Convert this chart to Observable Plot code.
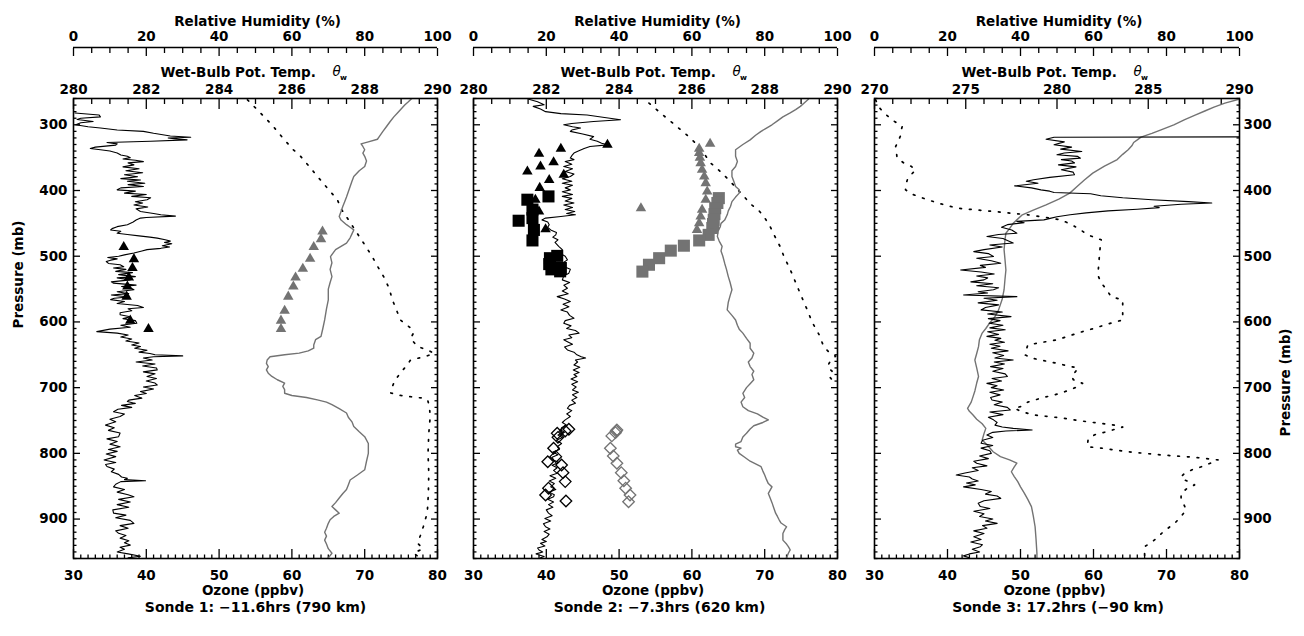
<!DOCTYPE html>
<html><head><meta charset="utf-8">
<script src="https://cdn.jsdelivr.net/npm/d3@7"></script>
<script src="https://cdn.jsdelivr.net/npm/@observablehq/plot@0.6"></script>
<style>
html,body{margin:0;padding:0;background:#fff}
#wrap{position:relative;width:1304px;height:636px;overflow:hidden;background:#fff}
.panel{position:absolute;top:0}
</style></head><body>
<div id="wrap"><div id="p1" class="panel" style="left:0px"></div><div id="p2" class="panel" style="left:455px"></div><div id="p3" class="panel" style="left:855px"></div></div>
<script>
// ---------- tick labels / axis values ----------
const ozoneTicks = [30, 40, 50, 60, 70, 80];
const rhTicks = [0, 20, 40, 60, 80, 100];
const thetaTicksA = [280, 282, 284, 286, 288, 290];
const thetaTicksB = [270, 275, 280, 285, 290];
const pressureTicks = [300, 400, 500, 600, 700, 800, 900];
const pressureDomain = [260, 960];
const captions = ["Sonde 1: \u221211.6hrs (790 km)", "Sonde 2: \u22127.3hrs (620 km)", "Sonde 3: 17.2hrs (\u221290 km)"];

// ---------- Sonde 1 : [pressure mb, value] ----------
const s1Ozone = [[282,30.2],[285,33.5],[288,33.7],[290,31],[292,30.5],[295,32.7],[297,31],[300,30.3],[303,32],[305,33.7],[308,36],[310,39.6],[313,41],[317,43.3],[319,46.1],[320,43],[321,43.8],[323,45.6],[325,40.6],[327,34.6],[329,36],[331,35.8],[334,33],[336,32.3],[338,33.7],[340,35],[343,36],[346,36.5],[348,37.4],[350,37.8],[352,36.8],[354,38.5],[356,39.6],[358,37.5],[361,38.3],[364,36.8],[367,39],[370,37.2],[373,39.5],[376,37],[379,38.8],[382,36.5],[384,39.2],[386,37.4],[389,39.8],[391,37.5],[394,39.6],[396,36.5],[399,36],[401,38.5],[404,37],[406,40],[409,38],[411,40.6],[414,40.1],[417,38.5],[419,39.5],[422,38.3],[425,40.2],[428,38.6],[432,39.2],[435,41],[437,42],[439,44],[441,40],[442,39.2],[445,38.6],[448,38.2],[452,37.4],[455,36],[458,35.3],[460,35.1],[462,36.5],[465,36],[467,37.4],[469,39],[471,40.5],[472.5,41.5],[475,42.6],[477,43.3],[479,42.5],[481,43.5],[484,42.2],[486,43.2],[488,42],[490,40.1],[492,39.4],[495,38.3],[498,37],[500,36.2],[502,34.7],[504,36],[506,35.1],[508,34.5],[511,34.8],[513,36.4],[516,36.9],[518,35.5],[520,37.2],[523,35.8],[525,38.1],[528,36.2],[531,38.5],[533,36],[536,37.8],[539,35.2],[541,35.5],[544,38.6],[546,36.6],[549,38],[551,38.3],[554,36],[557,37.6],[559,35.2],[562,37.5],[564,35.6],[566,35.1],[569,37],[572,36],[575,38.8],[578,39.6],[580,37.5],[583,38],[586,36.4],[589,36.4],[592,37.8],[595,36.8],[598,38.5],[602,38.7],[605,36.5],[608,37.8],[611,35],[614.7,33.2],[617,36],[620,37.5],[623,36.5],[626,38],[629,37.2],[632,39],[635,38],[637.5,39.2],[640,38.4],[643,40.1],[646,39],[648,40.5],[650,41.2],[651.7,45],[653,41],[655,39.6],[658,40.8],[661,38.6],[664,41.2],[667,39.5],[670,41.4],[673,41.5],[676,39.6],[679,41.2],[683,40.1],[686,41.4],[690,40],[693,41.2],[696,41.5],[699,39.6],[702,41],[706,39.2],[709,40],[712,38.4],[716,39.4],[719,37.6],[721,37.4],[724,38.5],[727,36.6],[730,38],[733,36.1],[736.6,35.5],[740,37],[744,36.4],[748,35],[752,35.8],[757,34.4],[761,35.6],[765,34.8],[769,36.4],[774.6,36.2],[778,34.6],[782,36],[786,35],[790,36.4],[794,34.8],[797,36],[801,34.5],[805,35.8],[810,34.2],[814,35.8],[817,34.4],[820,34.6],[824,35.6],[828,35.2],[832,36.2],[836,36.6],[838,37.4],[840,37],[841.6,39.9],[843,36.5],[847,35.8],[851,35.5],[855,37],[859,36],[863,37.5],[866,38.3],[870,36.2],[874,37.8],[878,36],[882,37.6],[886,35.4],[891,35.5],[894,37.2],[898,35.8],[902,37.8],[906.5,38.3],[910,36.4],[914,37.5],[918,35.8],[921.7,36.2],[925,37.2],[929,36.4],[933,37.6],[936,37],[939.6,37.8],[943,36.4],[946,37],[950,36],[953,37.5],[956.5,39.2],[959,37.5]];
const s1Theta = [[259.5,289.3],[265,289.2],[270,289.1],[276,289.0],[282,288.9],[288,288.8],[295,288.7],[302.6,288.6],[310,288.5],[318,288.4],[322,288.35],[326,288.1],[329,287.9],[333,287.95],[338,288.0],[343,287.95],[348,288.0],[355,288.05],[363.5,288.0],[370,287.85],[378.7,287.7],[386,287.65],[394,287.6],[402,287.55],[410,287.5],[417,287.45],[424,287.4],[432,287.35],[439.6,287.3],[445,287.35],[452,287.5],[456,287.6],[460,287.7],[466,287.65],[472,287.6],[480,287.5],[490,287.2],[500.5,287.06],[510,287.1],[520,287.05],[531,287.1],[540,287.05],[550,287.0],[566.5,287.0],[580,286.95],[597,286.9],[610,286.85],[622,286.8],[627,286.65],[635,286.6],[640,286.6],[644,286.45],[647.5,286.2],[650,285.8],[653,285.4],[658,285.32],[663,285.3],[668,285.35],[673,285.3],[678,285.35],[683,285.45],[688,285.6],[693,285.8],[698,285.75],[703,285.8],[708.6,285.8],[712,286.0],[715,286.4],[718.7,286.7],[722,286.95],[726,287.1],[732,287.3],[738.6,287.5],[745,287.55],[752,287.65],[759,287.7],[767,287.85],[774.6,288.0],[785,288.1],[800,288.1],[812,288.05],[825,288.0],[833,287.8],[840.6,287.6],[848,287.55],[855,287.5],[861,287.4],[868,287.3],[875,287.2],[881,287.1],[886,287.2],[891,287.3],[896,287.15],[901,287.05],[906.5,287.0],[914,286.95],[920,286.9],[926,286.95],[932,286.9],[938,286.95],[945,287.0],[952,287.1],[959,287.0]];
const s1Rh = [[262,47.8],[280,51],[300,54.5],[320,57.5],[338,60.4],[348,62.4],[365,65],[383.7,67.8],[400,70.3],[414,72.5],[428,73.5],[440,75],[457,77],[470,78.5],[480,79.7],[500,82],[515,83.5],[531,85.2],[550,86.8],[565,87.5],[580,88.6],[597,89.8],[610,92.8],[617,93.4],[625,92.6],[637.5,94.5],[642.6,97.3],[648,99],[652,97],[658,92.6],[668,91.3],[677.6,89.8],[690,88.2],[700,87.5],[708,87.1],[712,90],[716,96],[718.7,97.3],[730,97.8],[744,98],[770,97.6],[800,97.4],[830,97.6],[860,97.5],[890,97.2],[911.7,96.1],[925,95.3],[936.5,94.5],[945,96],[952,93.4],[958,95]];
const s1TriOzone = [[486,36.9],[504.5,38.3],[518,38.1],[532.5,37.6],[546,37.4],[561.5,37.3],[598,37.8],[610.7,40.3]];
const s1TriTheta = [[462.5,286.84],[474,286.8],[486,286.6],[504,286.5],[519,286.3],[532.5,286.1],[546,286.04],[561.5,285.9],[583,285.8],[598,285.7],[610.7,285.7]];

// ---------- Sonde 2 ----------
const s2Ozone = [[261,37.6],[265,38.8],[269.5,39.7],[272,38.2],[276,39.2],[280,39.9],[283,42],[285,45.6],[289,48],[292.4,50.2],[295,46.5],[298,43.5],[300,42.4],[303,43.6],[305,44.7],[308,43.5],[310,43.3],[314,45],[318,46.5],[322,46],[325,47],[328,47.6],[330.5,48.4],[333,46],[336,45.2],[340,44.4],[343,43.8],[347,43.5],[350.7,43.3],[353,43.8],[356,42.6],[360,43.5],[363.5,42.4],[367,43.6],[371,42.6],[375,43.8],[378.7,43.3],[382,42.2],[386,43.5],[389,42.2],[392,43.6],[396,42.6],[399,43.3],[402,42.2],[406,43.6],[409,42.2],[412,43.5],[416,42.6],[419,43.8],[422,42.4],[426,43.6],[429,42.6],[432,43.9],[435,42.8],[437,44],[439.6,42],[442,39.9],[444.7,39.4],[448,40.2],[452,40.4],[456,40.2],[460,40.6],[464,41.4],[467.5,41.3],[471,40.9],[475,41.6],[479,41.2],[485,41.7],[490,42.2],[495,41.8],[500,42.6],[505.6,42.9],[510,42.3],[515.8,42.4],[520,43.3],[525.8,43.1],[530,42.4],[536,42.2],[540,43.2],[544,42.4],[548.7,42.9],[553,42.2],[557,43],[561.5,41.5],[565,42.5],[569,43.3],[573,42.3],[577,43.1],[581.7,42],[585,42.9],[590,43.2],[594.4,43.8],[598,42.6],[602,42.4],[606,43.4],[610,42.8],[613,44],[617,44.5],[620,43.1],[624,43.5],[627,42.4],[630,42.9],[634,43.6],[638,42.5],[642.6,42.9],[646,43.8],[650,44.2],[653,44.8],[655,45.4],[658,44],[661,44.3],[665.5,43.8],[669,44.6],[673,43.7],[677,44.5],[680,43.8],[683,44.2],[687,43.4],[691,44.3],[695,43.5],[699,44.1],[703.5,43.6],[707,44.4],[711,43.6],[715,44.2],[719,43.5],[723.8,44],[727,43.2],[731.4,42.9],[735,43.5],[740,42.8],[744,43.3],[749,42.6],[753,42.2],[757,42.8],[761,42.1],[764.4,42],[768,42.5],[772,41.6],[776,42.2],[780,41.4],[785,42.1],[789.9,41.5],[794,41.8],[798,40.9],[802,41.6],[806,40.8],[810,41],[814,41.7],[818,40.8],[822,41.5],[826,41],[830.4,41.5],[834,40.5],[838,41.3],[842,40.4],[846,41.1],[851,40.6],[855,41.3],[859,40.4],[863,41.1],[866,41],[870,40.2],[874,41],[878,40.3],[882,40.9],[886,40],[891,40.3],[895,40.8],[899,39.8],[903,40.6],[907,39.6],[911.7,39.9],[915,40.5],[919,39.7],[923,40.4],[927,40.1],[931,39.4],[934,40],[937,39.2],[941,39.8],[944,38.8],[947,39],[950,39.5],[953,38.6],[957,39.7],[959,39.2]];
const s2Theta = [[261,289.2],[266,289.1],[272,288.98],[277,288.85],[282,288.7],[288,288.5],[294,288.35],[300,288.2],[305,288.05],[310,287.9],[316,287.75],[323,287.6],[330,287.4],[338,287.2],[343,287.2],[348,287.2],[356,287.25],[363.5,287.2],[370,287.1],[378.7,287.1],[386,287.15],[394,287.2],[399,287.3],[404,287.3],[410,287.2],[417,287.1],[424.4,287.06],[431,287.0],[437,286.97],[445,286.9],[450,286.8],[455,286.78],[462,286.72],[470,286.7],[477,286.75],[485,286.83],[492,286.8],[500,286.85],[510.6,286.9],[520,286.95],[531,287.0],[540,287.05],[551,287.1],[560,287.05],[570,287.0],[581.7,286.97],[590,287.1],[597,287.2],[605,287.25],[611,287.3],[617,287.4],[625,287.5],[632.5,287.6],[640,287.6],[647.6,287.7],[655,287.65],[661,287.55],[668,287.6],[675,287.7],[680,287.65],[688,287.7],[694,287.6],[700,287.5],[708.6,287.4],[715,287.45],[722,287.35],[729,287.4],[735,287.55],[740,287.8],[745,287.95],[749,288.1],[753,287.95],[758,287.7],[763,287.6],[769.5,287.5],[775,287.4],[782,287.35],[786,287.2],[789.9,287.2],[792,287.35],[795,287.25],[800,287.3],[806,287.45],[812,287.6],[820.3,287.9],[827,287.95],[833,288.0],[840,288.05],[846,288.1],[851,288.2],[856,288.15],[861,288.1],[868,288.15],[875,288.2],[883,288.25],[891,288.3],[896,288.35],[901.5,288.4],[906,288.45],[911.7,288.6],[916,288.55],[922,288.5],[927,288.5],[932,288.5],[938,288.6],[942,288.65],[947,288.7],[952,288.65],[959,288.6]];
const s2Rh = [[267,48.2],[285,52],[300,55.3],[315,58.5],[330.5,61.5],[345,63.5],[358,65.1],[372,68],[386,70.5],[400,72.8],[409,74.3],[420,76],[430,78.3],[439.6,79.8],[455,81.5],[470,82.8],[485,84.2],[500.5,85.3],[520,87],[540,88.5],[560,90],[581.7,91.7],[600,93],[620,95],[637.6,96.2],[645,97.5],[652,99.5],[660,98],[668,97.2],[675,98.5],[682,97.6],[690,98.8]];
const s2TriOzone = [[330.5,48.4],[336.5,42],[344,39],[357,41],[363.5,39.2],[371,37.4],[376,42.4],[384,40.4],[396,39.1],[414,38.5],[432,39],[459,39.9]];
const s2TriTheta = [[329,286.5],[336.5,286.2],[343,286.2],[350,286.22],[358.3,286.24],[368.5,286.28],[378.7,286.34],[388.8,286.38],[401.5,286.42],[414.2,286.38],[429.4,286.28],[439.6,286.24],[449.8,286.2],[459.9,286.14],[427,284.6]];
const s2SqOzone = [[409,40.3],[414,37.4],[429,38.1],[442,38.1],[446,36.2],[460,38.3],[476,38.1],[499.5,41.5],[503,40.5],[512,40.4],[520,40.7],[523,41.9],[518,42.0]];
const s2SqTheta = [[411.6,286.74],[419,286.7],[427,286.64],[436,286.62],[444.7,286.6],[451,286.58],[457,286.56],[467.5,286.46],[476,286.2],[484,285.78],[491.5,285.42],[503,285.1],[513,284.82],[523.4,284.64]];
const s2DiaOzone = [[763.4,43.1],[766,42.6],[769.5,41.5],[775.6,41.6],[792.3,41],[805,41.3],[812.7,40.2],[817.7,42.1],[829.4,42.3],[843,42.6],[853,40.3],[863.4,39.9],[872.5,42.7]];
const s2DiaTheta = [[764.4,283.94],[766,283.92],[768.5,283.9],[773.4,283.8],[792.3,283.76],[804,283.84],[815,283.94],[829.4,284.06],[841.6,284.13],[853,284.18],[863.4,284.3],[873.6,284.26]];

// ---------- Sonde 3 ----------
const s3Ozone = [[318,95],[319,54.6],[322,53.5],[326,56],[330.5,54.6],[334,57],[337,55.5],[340.6,58.4],[343,56],[345.7,55],[348,57.8],[350.7,58.2],[353,55.6],[355,57],[358,57.4],[361,55.2],[364,57.6],[368.5,55.6],[372,57.2],[376,57.4],[380,54],[383.7,51.8],[386,50.8],[389,52.4],[393,49.2],[396,51.5],[399,52.8],[401,54],[403,54.6],[405,59.6],[408,61],[411,64],[414,68],[417,73],[419,76.2],[421,72],[424,68.3],[426,69],[428.5,66],[431,62],[434,59],[437,56.8],[440,55],[442,54.2],[444.7,53.2],[447,49.5],[449,50.5],[452,48.2],[456,47.4],[460,48.8],[465,49.5],[467,47],[470,45.4],[473,47.6],[476,48.2],[480,49],[483,45.8],[486,47.5],[490,45],[493,43.6],[496,45.6],[500.5,46.3],[503,44],[507,46],[510.6,47.3],[514,44.5],[517,45.2],[521,41.8],[524,44.6],[527,46.4],[530,44],[533,45.5],[536,45],[539,43.2],[542,46.2],[545,44],[548,47],[551,46.3],[554,44.2],[556,45.5],[559,42.2],[561.5,49.5],[564,45],[567,46.8],[571,44.2],[574,47],[578,45.2],[581.7,44.6],[585,47.5],[588,45.5],[592,48.7],[595,45.6],[598,47.2],[602,45.7],[605,47.6],[609,45.8],[612,47.9],[615,45.5],[619,47],[622,45.4],[625,47.3],[628,46.5],[631,47.8],[634,45.8],[637,47.2],[640,46],[644,48.3],[647,46.2],[651,47.7],[655,46.5],[658,49],[661,46.4],[664,47.8],[668,45.9],[671,47.6],[675,46.2],[679,47.9],[683,48.2],[686,46.1],[690,47.4],[693.5,45.4],[697,46.8],[700,46],[703.5,47.7],[707,45.8],[711,47.2],[715,45.9],[718.7,46.1],[722,47.5],[726,46.4],[730,48.2],[734,48.6],[737,45.8],[741,47.6],[745,45.6],[749,46.3],[753,46.8],[757,46.5],[760,47.5],[762,49],[764.4,51.6],[766,48],[768,46.2],[772,45.4],[776,46.2],[780,44.8],[784.7,44.6],[788,46.2],[792,44.6],[796,45.8],[800,46],[804,44.4],[808,45.6],[812,43.6],[815,44],[819,45.4],[822,43.4],[826,44.2],[830,42.4],[833,41.2],[836,43],[839,43.4],[842,44.2],[845,42.6],[848,43.8],[851,42.2],[855,44.6],[858,46],[862,45.2],[865,46.8],[868.5,47.3],[872,45],[876,44.2],[881,44.5],[884,45.8],[888,43.6],[892,45],[896,44.4],[900,46.2],[903,45.2],[906.5,46.8],[910,44.8],[914,45.4],[918,43.6],[922,45],[927,43.6],[931,44.6],[935,43.2],[939,44.8],[942,44.5],[946,43.4],[950,44.4],[953,43],[956,42.2],[959,43]];
const s3Theta = [[261,290],[267,289.2],[273,288.6],[279,288.1],[285,287.6],[292,287.0],[300,286.4],[307.6,285.7],[313,285.2],[318.7,284.6],[323,284.4],[327,284.2],[332,284.1],[338,283.9],[345,283.6],[353,283.3],[363,282.6],[373.5,281.96],[384,281.5],[394,281.1],[404,280.7],[413,280.1],[421.8,279.4],[430,278.7],[437,278.1],[444.7,277.8],[450,277.6],[458,277.4],[465,277.2],[475,277.15],[490,277.1],[505,277.15],[521,277.2],[535,277.15],[551,277.1],[565,277.0],[581.7,276.8],[592,276.6],[602,276.3],[610,276.1],[617,275.9],[627,275.75],[637.6,275.7],[648,275.6],[658,275.5],[670,275.6],[683,275.7],[693,275.6],[705,275.5],[713.7,275.4],[722,275.3],[731.4,275.1],[736,275.2],[741.6,275.4],[748,275.6],[755,275.9],[762,276.1],[770,276.0],[779.6,275.9],[788,276.2],[797.5,276.5],[805,276.9],[810,277.4],[815,277.8],[821,277.65],[828,277.5],[835,277.65],[843,277.85],[851,278.0],[860,278.2],[870,278.4],[881,278.6],[895,278.7],[911.7,278.8],[930,278.85],[952,278.9],[959,278.9]];
const s3Rh = [[262,0.3],[267,0.7],[275,1.5],[282,2.6],[288,3.9],[295,5.5],[302.6,7.6],[310,7.2],[317,7.1],[325,6.5],[333,5.8],[342,6.0],[350.7,6.2],[358,8],[363,10],[368.5,11.3],[376,10],[383.7,9],[391,8.6],[399,8.5],[406,10.5],[414,14.5],[420,18],[427,22.7],[432,32.8],[437,42],[441,47],[444.7,51.1],[452,54],[460,56.5],[467.5,58.4],[475,62.1],[488,61.8],[500.5,61.6],[515,61.4],[528.4,61.2],[540,62],[550,63.5],[561.5,64.8],[566.5,68],[580,68],[597,68],[603,64],[609.6,60.3],[614.7,57],[620,54],[627,50.2],[632,45],[635,42],[642,41.6],[650,41.2],[655,43],[658,45.6],[663,50],[667,53],[670,55.8],[676,55],[683,54],[688,54.5],[693.5,57],[700,55],[708.6,51],[716,45.6],[722,42],[729,40],[731,38.3],[736,40],[741.6,43.6],[746,51],[752,58.4],[757,65.8],[760,68],[763,66],[767,63.9],[770,61],[774.6,59.3],[780,58.5],[784.7,58.4],[790,58.4],[792,62.1],[797.5,69.4],[802.5,78.6],[806,87.7],[810,94.1],[815,92],[820,89.8],[825,87],[830.4,85],[834,84.3],[838,84],[843,86],[848,87.7],[854,85.5],[861,84],[869,84],[876,84.6],[886,85.4],[896,84],[905,82.5],[914,80.4],[920,79],[927,77.7],[935,76],[942,74],[948,74],[955,74]];

// ---------- drawing ----------
const GRAY = "#737373";
const FONT = "DejaVu Sans";
const RH_DY = -51;

function panel(o) {
  const thToX = t => 30 + (t - o.thMin) / (o.thMax - o.thMin) * 50;
  const xToTh = x => Math.round(o.thMin + (x - 30) / 50 * (o.thMax - o.thMin));
  const rhToX = r => 30 + r / 2;
  const xToRh = x => Math.round((x - 30) * 2);
  const rhMinor = d3.range(0, 101, 5).filter(v => v % 20 !== 0).map(rhToX);
  const thMinor = d3.range(o.thMin, o.thMax + 0.001, o.thMinorStep).filter(v => !o.thTicks.some(t => Math.abs(t - v) < 1e-6)).map(thToX);
  const ozMinor = d3.range(30, 81, 1).filter(v => v % 10 !== 0);
  const pMinor = d3.range(260, 961, 10).filter(v => v % 100 !== 0);
  const tick = {fill: "none", label: null, strokeWidth: 1.3};
  const txt = {lineAnchor: "middle"};
  const marks = [
    // Relative humidity axis (above)
    Plot.ruleY([pressureDomain[0]], {dy: RH_DY, strokeWidth: 1.6}),
    Plot.axisX(rhTicks.map(rhToX), {anchor: "top", dy: RH_DY, tickSize: -8, ...tick}),
    Plot.axisX(rhMinor, {anchor: "top", dy: RH_DY, tickSize: -5, ...tick}),
    Plot.axisX(rhTicks.map(rhToX), {anchor: "top", dy: RH_DY, tickSize: 0, tickPadding: 7, label: null, tickFormat: xToRh}),
    // theta-w axis (frame top)
    Plot.axisX(o.thTicks.map(thToX), {anchor: "top", tickSize: -10, ...tick}),
    Plot.axisX(thMinor, {anchor: "top", tickSize: -5, ...tick}),
    Plot.axisX(o.thTicks.map(thToX), {anchor: "top", tickSize: 0, tickPadding: 5, label: null, tickFormat: xToTh}),
    // ozone axis (bottom)
    Plot.axisX(ozoneTicks, {anchor: "bottom", tickSize: -9, ...tick}),
    Plot.axisX(ozMinor, {anchor: "bottom", tickSize: -3.5, ...tick}),
    Plot.axisX(ozoneTicks, {anchor: "bottom", tickSize: 0, tickPadding: 12, label: null, tickFormat: d => String(d)}),
    // pressure ticks both sides
    Plot.axisY(pressureTicks, {anchor: "left", tickSize: -7, ...tick}),
    Plot.axisY(pMinor, {anchor: "left", tickSize: -3.5, ...tick}),
    Plot.axisY(pressureTicks, {anchor: "right", tickSize: -7, ...tick}),
    Plot.axisY(pMinor, {anchor: "right", tickSize: -3.5, ...tick}),
  ];
  if (o.yLabels === "left") {
    marks.push(Plot.axisY(pressureTicks, {anchor: "left", tickSize: 0, tickPadding: 6, label: null, tickFormat: d => String(d)}));
    marks.push(Plot.text(["Pressure (mb)"], {frameAnchor: "left", dx: -54.5, rotate: -90, ...txt}));
  } else if (o.yLabels === "right") {
    marks.push(Plot.axisY(pressureTicks, {anchor: "right", tickSize: 0, tickPadding: 4, label: null, tickFormat: d => String(d)}));
    marks.push(Plot.text(["Pressure (mb)"], {frameAnchor: "right", dx: 46, rotate: -90, ...txt}));
  }
  marks.push(
    Plot.text(["Relative Humidity (%)"], {frameAnchor: "top", dx: 2, dy: -77, ...txt}),
    Plot.text(["Wet-Bulb Pot. Temp."], {frameAnchor: "top-left", dx: 87, dy: -26, textAnchor: "start", ...txt}),
    Plot.text(["\u03b8"], {frameAnchor: "top-left", dx: 259, dy: -26.5, textAnchor: "start", fontStyle: "italic", fontWeight: "normal", ...txt}),
    Plot.text(["w"], {frameAnchor: "top-left", dx: 266.5, dy: -20.5, textAnchor: "start", fontSize: 7.5, ...txt}),
    Plot.text(["Ozone (ppbv)"], {frameAnchor: "bottom", dx: -2.5, dy: 32, ...txt}),
    Plot.text([o.caption], {frameAnchor: "bottom", dx: o.capDx, dy: 49, fontSize: 14, ...txt}),
    // data
    Plot.line(o.rh, {x: d => rhToX(d[1]), y: d => d[0], stroke: "black", strokeWidth: 1.7, strokeDasharray: "1.7,8", clip: true}),
    Plot.line(o.theta, {x: d => thToX(d[1]), y: d => d[0], stroke: GRAY, strokeWidth: 1.4, clip: true}),
    Plot.line(o.ozone, {x: d => d[1], y: d => d[0], stroke: "black", strokeWidth: 1.1, clip: true}),
    Plot.frame({strokeWidth: 1.6})
  );
  for (const m of o.markers) {
    const xf = m.kind === "theta" ? (d => thToX(d[1])) : (d => d[1]);
    const filled = m.symbol !== "diamond2";
    marks.push(Plot.dot(m.data, {
      x: xf, y: d => d[0], symbol: m.symbol, r: m.r,
      fill: filled ? m.color : "none", stroke: filled ? "none" : m.color, strokeWidth: 1.3
    }));
  }
  return Plot.plot({
    width: o.width, height: 636,
    marginTop: 98, marginBottom: 78, marginLeft: o.ml, marginRight: o.mr,
    x: {domain: [30, 80]},
    y: {domain: pressureDomain, reverse: true},
    style: {fontFamily: FONT, fontSize: "13.5px", fontWeight: "bold", background: "white", overflow: "visible", color: "black"},
    marks
  });
}

document.getElementById("p1").append(panel({
  width: 455, ml: 73, mr: 18, thMin: 280, thMax: 290, thTicks: thetaTicksA, thMinorStep: 0.5,
  ozone: s1Ozone, theta: s1Theta, rh: s1Rh, caption: captions[0], capDx: 0, yLabels: "left",
  markers: [
    {data: s1TriOzone, kind: "ozone", symbol: "triangle", r: 3.9, color: "black"},
    {data: s1TriTheta, kind: "theta", symbol: "triangle", r: 3.9, color: GRAY}
  ]
}));
document.getElementById("p2").append(panel({
  width: 400, ml: 18, mr: 18, thMin: 280, thMax: 290, thTicks: thetaTicksA, thMinorStep: 0.5,
  ozone: s2Ozone, theta: s2Theta, rh: s2Rh, caption: captions[1], capDx: 4, yLabels: "none",
  markers: [
    {data: s2TriOzone, kind: "ozone", symbol: "triangle", r: 3.9, color: "black"},
    {data: s2TriTheta, kind: "theta", symbol: "triangle", r: 3.9, color: GRAY},
    {data: s2SqOzone, kind: "ozone", symbol: "square", r: 6.8, color: "black"},
    {data: s2SqTheta, kind: "theta", symbol: "square", r: 6.8, color: GRAY},
    {data: s2DiaOzone, kind: "ozone", symbol: "diamond2", r: 5.2, color: "black"},
    {data: s2DiaTheta, kind: "theta", symbol: "diamond2", r: 5.2, color: GRAY}
  ]
}));
document.getElementById("p3").append(panel({
  width: 449, ml: 19, mr: 65, thMin: 270, thMax: 290, thTicks: thetaTicksB, thMinorStep: 1,
  ozone: s3Ozone, theta: s3Theta, rh: s3Rh, caption: captions[2], capDx: 1, yLabels: "right",
  markers: []
}));
</script>
</body></html>
